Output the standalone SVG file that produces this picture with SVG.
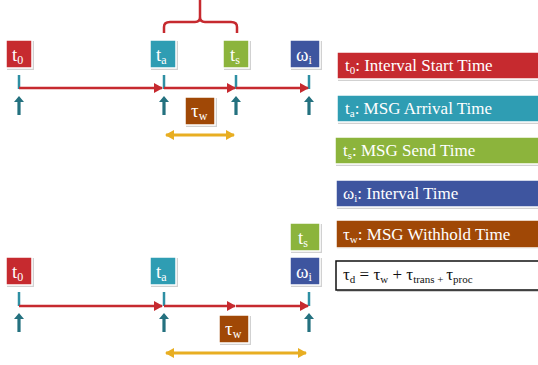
<svg xmlns="http://www.w3.org/2000/svg" width="538" height="365" viewBox="0 0 538 365">
<defs>
<style>
.bx{stroke:#ffffff;stroke-width:1.5}
.sh{fill:#000;opacity:0.18}
.lb{font-family:"Liberation Serif",serif;font-size:19px;fill:#ffffff}
.lg{font-family:"Liberation Serif",serif;font-size:17px;fill:#ffffff}
.tk{stroke:#2e8fa3;stroke-width:2.5}
.red{stroke:#c62a2f;stroke-width:2.5;fill:none}
.yl{stroke:#e8ae22;stroke-width:3;fill:none}
</style>
<marker id="ra" markerWidth="10" markerHeight="10" refX="8" refY="5" orient="auto" markerUnits="userSpaceOnUse"><path d="M0,0 L9,5 L0,10 Z" fill="#c62a2f"/></marker>
<marker id="ya" markerWidth="10" markerHeight="10" refX="8" refY="5" orient="auto-start-reverse" markerUnits="userSpaceOnUse"><path d="M0,0 L9,5 L0,10 Z" fill="#e8ae22"/></marker>
<g id="up"><path d="M0,0 L5,6 L1.6,6 L1.6,19 L-1.6,19 L-1.6,6 L-5,6 Z" fill="#24717f"/></g>
</defs>
<rect width="538" height="365" fill="#ffffff"/>

<g id="connectors">
<path class="red" d="M200,0 L200,17 Q200,22 195,22 L170,22 Q164,22 164,27 L164,33 M200,17 Q200,22 205,22 L231,22 Q237,22 237,27 L237,33"/>
<line class="tk" x1="19" y1="75" x2="19" y2="89"/>
<line class="tk" x1="164" y1="75" x2="164" y2="89"/>
<line class="tk" x1="236" y1="75" x2="236" y2="89"/>
<line class="tk" x1="309" y1="75" x2="309" y2="89"/>
<line class="red" x1="19" y1="88" x2="162" y2="88" marker-end="url(#ra)"/>
<line class="red" x1="164" y1="88" x2="235" y2="88" marker-end="url(#ra)"/>
<line class="red" x1="236" y1="88" x2="308" y2="88" marker-end="url(#ra)"/>
<use href="#up" x="19" y="96"/><use href="#up" x="164" y="96"/><use href="#up" x="236" y="96"/><use href="#up" x="309" y="96"/>
<line class="yl" x1="166" y1="135" x2="234" y2="135" marker-start="url(#ya)" marker-end="url(#ya)"/>

<line class="tk" x1="19" y1="292" x2="19" y2="306"/>
<line class="tk" x1="164" y1="292" x2="164" y2="306"/>
<line class="tk" x1="309" y1="292" x2="309" y2="306"/>
<line class="red" x1="19" y1="306" x2="162" y2="306" marker-end="url(#ra)"/>
<line class="red" x1="164" y1="306" x2="235" y2="306" marker-end="url(#ra)"/>
<line class="red" x1="236" y1="306" x2="308" y2="306" marker-end="url(#ra)"/>
<use href="#up" x="19" y="313"/><use href="#up" x="164" y="313"/><use href="#up" x="309" y="313"/>
<line class="yl" x1="166" y1="353" x2="306" y2="353" marker-start="url(#ya)" marker-end="url(#ya)"/>
</g>

<g id="t0-top"><rect class="sh" x="7" y="41" width="27" height="29"/><rect class="bx" x="6" y="40" width="26" height="28" fill="#c62a2f"/><text class="lb" x="12" y="61">t<tspan font-size="12" dy="3">0</tspan></text></g>
<g id="ta-top"><rect class="sh" x="151" y="41" width="27" height="29"/><rect class="bx" x="150" y="40" width="26" height="28" fill="#2f9db3"/><text class="lb" x="156" y="61">t<tspan font-size="12" dy="3">a</tspan></text></g>
<g id="ts-top"><rect class="sh" x="224" y="41" width="27" height="29"/><rect class="bx" x="223" y="40" width="26" height="28" fill="#8cb43c"/><text class="lb" x="230" y="61">t<tspan font-size="12" dy="3">s</tspan></text></g>
<g id="wi-top"><rect class="sh" x="291" y="41" width="31" height="29"/><rect class="bx" x="290" y="40" width="30" height="28" fill="#3e559f"/><text class="lb" x="296" y="61">ω<tspan font-size="12" dy="3">i</tspan></text></g>
<g id="tw-top"><rect class="sh" x="186" y="98" width="31" height="29"/><rect class="bx" x="185" y="97" width="30" height="28" fill="#a04806"/><text class="lb" x="191" y="117">τ<tspan font-size="12" dy="3">w</tspan></text></g>

<g id="t0-bot"><rect class="sh" x="7" y="258" width="27" height="29"/><rect class="bx" x="6" y="257" width="26" height="28" fill="#c62a2f"/><text class="lb" x="12" y="278">t<tspan font-size="12" dy="3">0</tspan></text></g>
<g id="ta-bot"><rect class="sh" x="151" y="258" width="27" height="29"/><rect class="bx" x="150" y="257" width="26" height="28" fill="#2f9db3"/><text class="lb" x="156" y="278">t<tspan font-size="12" dy="3">a</tspan></text></g>
<g id="ts-bot"><rect class="sh" x="291" y="224" width="31" height="29"/><rect class="bx" x="290" y="223" width="30" height="28" fill="#8cb43c"/><text class="lb" x="298" y="244">t<tspan font-size="12" dy="3">s</tspan></text></g>
<g id="wi-bot"><rect class="sh" x="291" y="258" width="31" height="29"/><rect class="bx" x="290" y="257" width="30" height="28" fill="#3e559f"/><text class="lb" x="296" y="278">ω<tspan font-size="12" dy="3">i</tspan></text></g>
<g id="tw-bot"><rect class="sh" x="220" y="316" width="31" height="29"/><rect class="bx" x="219" y="315" width="30" height="28" fill="#a04806"/><text class="lb" x="225" y="335">τ<tspan font-size="12" dy="3">w</tspan></text></g>

<g id="legend-t0"><rect class="sh" x="338" y="53" width="202" height="28"/><rect class="bx" x="337" y="52" width="204" height="27" fill="#c62a2f"/><text class="lg" x="345" y="71">t<tspan font-size="11" dy="3">0</tspan><tspan dy="-3">: Interval Start Time</tspan></text></g>
<g id="legend-ta"><rect class="sh" x="338" y="96" width="202" height="28"/><rect class="bx" x="337" y="95" width="204" height="27" fill="#2f9db3"/><text class="lg" x="345" y="114">t<tspan font-size="11" dy="3">a</tspan><tspan dy="-3">: MSG Arrival Time</tspan></text></g>
<g id="legend-ts"><rect class="sh" x="336" y="138" width="204" height="28"/><rect class="bx" x="335" y="137" width="206" height="27" fill="#8cb43c"/><text class="lg" x="343" y="156">t<tspan font-size="11" dy="3">s</tspan><tspan dy="-3">: MSG Send Time</tspan></text></g>
<g id="legend-wi"><rect class="sh" x="337" y="181" width="203" height="28"/><rect class="bx" x="336" y="180" width="205" height="27" fill="#3e559f"/><text class="lg" x="343" y="199">ω<tspan font-size="11" dy="3">i</tspan><tspan dy="-3">: Interval Time</tspan></text></g>
<g id="legend-tw"><rect class="sh" x="337" y="221" width="203" height="28"/><rect class="bx" x="336" y="220" width="205" height="28" fill="#a04806"/><text class="lg" x="343" y="240">τ<tspan font-size="11" dy="3">w</tspan><tspan dy="-3">: MSG Withhold Time</tspan></text></g>
<g id="legend-td"><rect class="sh" x="337" y="262" width="203" height="30"/><rect x="336" y="261" width="205" height="29" fill="#ffffff" stroke="#111111" stroke-width="1.5"/><text font-family="Liberation Serif,serif" font-size="17" fill="#111111" x="343" y="280">τ<tspan font-size="11" dy="3">d</tspan><tspan dy="-3"> = τ</tspan><tspan font-size="11" dy="3">w</tspan><tspan dy="-3"> + τ</tspan><tspan font-size="11" dy="3">trans + </tspan><tspan dy="-3">τ</tspan><tspan font-size="11" dy="3">proc</tspan></text></g>
</svg>
